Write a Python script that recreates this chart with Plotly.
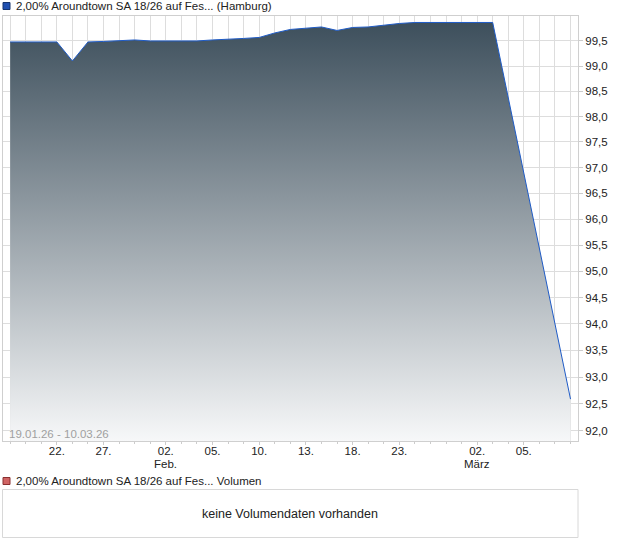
import plotly.graph_objects as go

# ---- data ----
dates = ["19.01.", "20.01.", "21.01.", "22.01.", "23.01.",
         "26.01.", "27.01.", "28.01.", "29.01.", "30.01.",
         "02.02.", "03.02.", "04.02.", "05.02.", "06.02.",
         "09.02.", "10.02.", "11.02.", "12.02.", "13.02.",
         "16.02.", "17.02.", "18.02.", "19.02.", "20.02.",
         "23.02.", "24.02.", "25.02.", "26.02.", "27.02.",
         "02.03.", "03.03.", "04.03.", "05.03.", "06.03.",
         "09.03.", "10.03."]
prices = [99.48, 99.48, 99.48, 99.48, 99.10,
          99.48, 99.49, 99.50, 99.52, 99.50,
          99.50, 99.50, 99.50, 99.52, 99.53,
          99.55, 99.57, 99.66, 99.73, 99.76,
          99.78, 99.71, 99.77, 99.78, 99.82,
          99.85, 99.87, 99.87, 99.87, 99.87,
          99.87, 99.87, None, None, None,
          None, 92.59]
tick_dates = ["22.01.", "27.01.", "02.02.", "05.02.", "10.02.",
              "13.02.", "18.02.", "23.02.", "02.03.", "05.03."]
tick_labels = ["22.", "27.", "02.", "05.", "10.",
               "13.", "18.", "23.", "02.", "05."]
month_dates = ["02.02.", "02.03."]
month_labels = ["Feb.", "März"]
y_ticks = [92.0, 92.5, 93.0, 93.5, 94.0, 94.5, 95.0, 95.5,
           96.0, 96.5, 97.0, 97.5, 98.0, 98.5, 99.0, 99.5]

title_price = "2,00% Aroundtown SA 18/26 auf Fes... (Hamburg)"
title_vol = "2,00% Aroundtown SA 18/26 auf Fes... Volumen"
range_text = "19.01.26 - 10.03.26"
no_vol_text = "keine Volumendaten vorhanden"

x_idx = list(range(len(dates)))
tick_idx = [dates.index(d) for d in tick_dates]
month_idx = [dates.index(d) for d in month_dates]

FONT = "Liberation Sans, Arial, sans-serif"
GRID = "#dddddd"

fig = go.Figure()
fig.add_trace(go.Scatter(
    x=x_idx, y=prices, mode="lines", connectgaps=True,
    line=dict(color="#1f5bc6", width=1),
    fill="tozeroy",
    fillgradient=dict(type="vertical",
                      colorscale=[[0, "#f7f8f9"], [1, "#3d4f5c"]],
                      start=91.8, stop=99.87),
    hoverinfo="skip", showlegend=False,
))

W, H = 620, 546
L, R, T, B = 3, 578, 16, 441

fig.update_layout(
    width=W, height=H,
    margin=dict(l=L, r=W - R, t=T, b=H - B, pad=0),
    paper_bgcolor="white", plot_bgcolor="white",
    separators=",.",
    font=dict(family=FONT, size=11, color="#222222"),
    xaxis=dict(
        range=[-0.46, 36.48],
        tickmode="array", tickvals=tick_idx, ticktext=tick_labels,
        showgrid=True, gridcolor=GRID, gridwidth=1,
        minor=dict(dtick=1, tick0=0, showgrid=True, gridcolor=GRID,
                   ticks="outside", ticklen=2, tickcolor="#cccccc"),
        ticks="outside", ticklen=3, tickcolor="#cccccc",
        ticklabelstandoff=-4,
        showline=True, linecolor="#cfcfcf", linewidth=1, mirror=True,
        zeroline=False, tickfont=dict(size=11.5, color="#222222"),
    ),
    yaxis=dict(
        type="log", side="right",
        range=[1.96291, 2.0],
        tickmode="array", tickvals=y_ticks,
        ticktext=[f"{v:.1f}".replace(".", ",") for v in y_ticks],
        showgrid=True, gridcolor=GRID, gridwidth=1,
        ticks="outside", ticklen=4, tickcolor="#cccccc",
        showline=True, linecolor="#cfcfcf", linewidth=1, mirror=True,
        zeroline=False, tickfont=dict(size=11.5, color="#222222"),
    ),
)

# convert page pixels to plot-area ("paper") fractions
def px(x):
    return (x - L) / (R - L)

def py(y):
    return (B - y) / (B - T)

shapes = [
    # price legend square
    dict(type="rect", xref="paper", yref="paper",
         x0=px(3), x1=px(10), y0=py(9.5), y1=py(2.5),
         fillcolor="#2050b0", line=dict(color="#16346e", width=1)),
    # volume legend square
    dict(type="rect", xref="paper", yref="paper",
         x0=px(3), x1=px(10), y0=py(484.5), y1=py(477.5),
         fillcolor="#d06464", line=dict(color="#8a3030", width=1)),
    # volume box
    dict(type="rect", xref="paper", yref="paper",
         x0=px(2.5), x1=px(578), y0=py(537.5), y1=py(489.5),
         fillcolor="rgba(0,0,0,0)", line=dict(color="#d8d8d8", width=1)),
]

annotations = [
    dict(text=title_price, xref="paper", yref="paper",
         x=px(14), y=py(6), xanchor="left", yanchor="middle",
         showarrow=False, font=dict(size=11.5, color="#222222")),
    dict(text=title_vol, xref="paper", yref="paper",
         x=px(14), y=py(481), xanchor="left", yanchor="middle",
         showarrow=False, font=dict(size=11.5, color="#222222")),
    dict(text=no_vol_text, xref="paper", yref="paper",
         x=px(290), y=py(514), xanchor="center", yanchor="middle",
         showarrow=False, font=dict(size=12.5, color="#222222")),
    dict(text=range_text, xref="paper", yref="paper",
         x=px(7), y=py(434), xanchor="left", yanchor="middle",
         showarrow=False, font=dict(size=11.5, color="#a0a0a0")),
]
for mi, ml in zip(month_idx, month_labels):
    annotations.append(dict(
        text=ml, xref="x", yref="paper", x=mi, y=py(464),
        xanchor="center", yanchor="middle", showarrow=False,
        font=dict(size=11.5, color="#222222")))

fig.update_layout(shapes=shapes, annotations=annotations)

fig.write_html("out.html",
               config={"displayModeBar": False},
               post_script="document.body.style.margin='0px';")
